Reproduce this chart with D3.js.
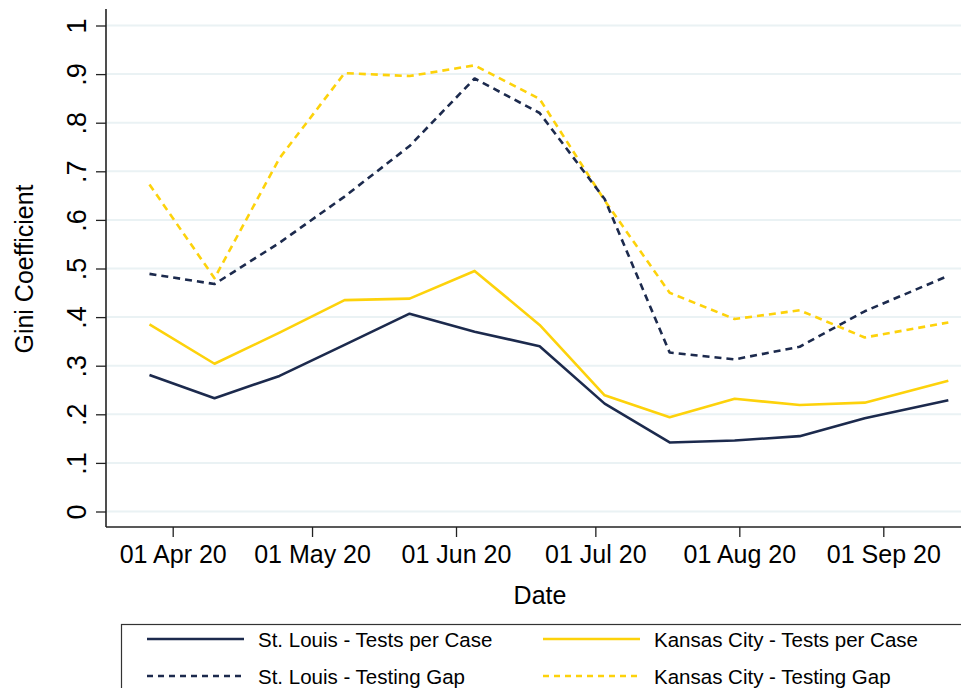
<!DOCTYPE html>
<html>
<head>
<meta charset="utf-8">
<script src="https://cdn.jsdelivr.net/npm/d3@7"></script>
<style>
  body { margin: 0; background: #fff; }
  text { font-family: "Liberation Sans", Arial, Helvetica, sans-serif; fill: #000; }
</style>
</head>
<body>
<div id="chart"></div>
<script>
// Gini coefficient, biweekly snapshots
const dates = ["2020-03-27", "2020-04-10", "2020-04-24", "2020-05-08", "2020-05-22", "2020-06-05",
  "2020-06-19", "2020-07-03", "2020-07-17", "2020-07-31", "2020-08-14", "2020-08-28", "2020-09-15"];
const stlTests = [0.281, 0.233, 0.279, 0.343, 0.407, 0.370, 0.340, 0.222, 0.142, 0.146, 0.155, 0.192, 0.229];
const kcTests  = [0.385, 0.304, 0.368, 0.435, 0.438, 0.495, 0.384, 0.239, 0.194, 0.232, 0.219, 0.224, 0.269];
const stlGap   = [0.489, 0.468, 0.553, 0.648, 0.752, 0.891, 0.820, 0.643, 0.327, 0.313, 0.339, 0.412, 0.485];
const kcGap    = [0.673, 0.480, 0.727, 0.902, 0.896, 0.918, 0.849, 0.640, 0.450, 0.396, 0.414, 0.358, 0.389];

const yTicks = [0, 0.1, 0.2, 0.3, 0.4, 0.5, 0.6, 0.7, 0.8, 0.9, 1];
const xTicks = ["2020-04-01", "2020-05-01", "2020-06-01", "2020-07-01", "2020-08-01", "2020-09-01"];

const seriesNames = ["St. Louis - Tests per Case", "Kansas City - Tests per Case",
  "St. Louis - Testing Gap", "Kansas City - Testing Gap"];

const navy = "#1c2a4d";
const gold = "#fdd20b";

const width = 961, height = 688;
const parse = d3.utcParse("%Y-%m-%d");
const fmt = d3.utcFormat("%d %b %y");

let svg = d3.select("#chart")
  .append("svg")
  .attr("width", width)
  .attr("height", height);

let x = d3.scaleUtc()
  .domain([parse("2020-04-01"), parse("2020-09-01")])
  .range([172.7, 883.3]);

let y = d3.scaleLinear()
  .domain([0, 1])
  .range([511.5, 25.5]);

const axisX = 106, axisY = 527;

// grid
svg.append("g")
  .selectAll("line")
  .data(yTicks)
  .enter()
    .append("line")
    .attr("x1", axisX)
    .attr("x2", width)
    .attr("y1", d => y(d))
    .attr("y2", d => y(d))
    .attr("stroke", "#eaf2f4")
    .attr("stroke-width", 2);

// y axis
let yAxis = d3.axisLeft(y)
  .tickValues(yTicks)
  .tickSize(10)
  .tickFormat(d => d === 0 ? "0" : d === 1 ? "1" : d3.format(".1f")(d).replace(/^0/, ""));
let gy = svg.append("g")
  .attr("transform", `translate(${axisX},0)`)
  .call(yAxis);
gy.select(".domain").remove();
gy.selectAll(".tick line").attr("stroke", "#222").attr("stroke-width", 1.3);
gy.selectAll(".tick text")
  .attr("x", 0)
  .attr("dy", 0)
  .attr("transform", "translate(-20,0) rotate(-90)")
  .attr("text-anchor", "middle")
  .style("font-size", "27px")
  .style("font-family", "Liberation Sans, Arial, sans-serif");
svg.append("line")
  .attr("x1", axisX).attr("x2", axisX)
  .attr("y1", 9).attr("y2", axisY)
  .attr("stroke", "#222").attr("stroke-width", 1.6);

// x axis
let xAxis = d3.axisBottom(x)
  .tickValues(xTicks.map(parse))
  .tickSize(10)
  .tickFormat(fmt);
let gx = svg.append("g")
  .attr("transform", `translate(0,${axisY})`)
  .call(xAxis);
gx.select(".domain").remove();
gx.selectAll(".tick line").attr("stroke", "#222").attr("stroke-width", 1.3);
gx.selectAll(".tick text")
  .attr("y", 36)
  .attr("dy", 0)
  .style("font-size", "25px")
  .style("font-family", "Liberation Sans, Arial, sans-serif");
svg.append("line")
  .attr("x1", axisX).attr("x2", width)
  .attr("y1", axisY).attr("y2", axisY)
  .attr("stroke", "#222").attr("stroke-width", 1.6);

// axis titles
svg.append("text")
  .text("Date")
  .attr("x", 540)
  .attr("y", 604)
  .attr("text-anchor", "middle")
  .style("font-size", "25px");
svg.append("text")
  .text("Gini Coefficient")
  .attr("transform", "translate(33,269) rotate(-90)")
  .attr("text-anchor", "middle")
  .style("font-size", "25px");

// lines
const series = [
  { values: kcGap, color: gold, dash: "7,5" },
  { values: stlGap, color: navy, dash: "7,5" },
  { values: kcTests, color: gold, dash: null },
  { values: stlTests, color: navy, dash: null }
];

let line = d3.line()
  .x(d => x(d.date))
  .y(d => y(d.value));

svg.append("g")
  .selectAll("path")
  .data(series)
  .enter()
    .append("path")
    .attr("d", s => line(dates.map((dt, i) => ({ date: parse(dt), value: s.values[i] }))))
    .attr("fill", "none")
    .attr("stroke", s => s.color)
    .attr("stroke-width", 2.6)
    .attr("stroke-linejoin", "round")
    .attr("stroke-dasharray", s => s.dash);

// legend
let legend = svg.append("g");
legend.append("rect")
  .attr("x", 121.5)
  .attr("y", 624.5)
  .attr("width", 900)
  .attr("height", 100)
  .attr("fill", "#fff")
  .attr("stroke", "#333")
  .attr("stroke-width", 1.2);

const legendItems = [
  { name: seriesNames[0], color: navy, dash: null, col: 0, row: 0 },
  { name: seriesNames[1], color: gold, dash: null, col: 1, row: 0 },
  { name: seriesNames[2], color: navy, dash: "6,5", col: 0, row: 1 },
  { name: seriesNames[3], color: gold, dash: "6,5", col: 1, row: 1 }
];

let items = legend.selectAll("g.item")
  .data(legendItems)
  .enter()
    .append("g")
    .attr("class", "item")
    .attr("transform", d => `translate(${d.col ? 543 : 147},${d.row ? 676 : 639})`);
items.append("line")
  .attr("x1", 0).attr("x2", 97)
  .attr("stroke", d => d.color)
  .attr("stroke-width", 2.4)
  .attr("stroke-dasharray", d => d.dash);
items.append("text")
  .text(d => d.name)
  .attr("x", 111)
  .attr("y", 8)
  .style("font-size", "20.5px");
</script>
</body>
</html>
